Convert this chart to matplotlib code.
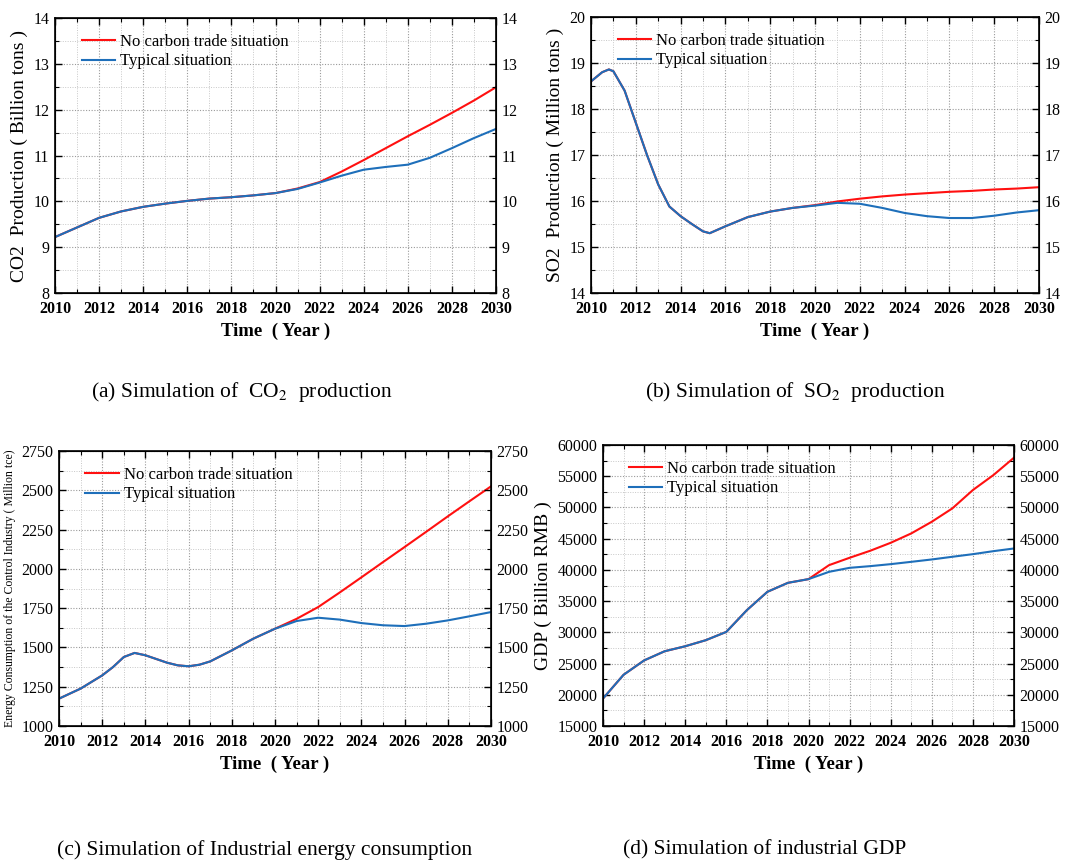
import matplotlib
matplotlib.use("Agg")
import matplotlib.pyplot as plt
from matplotlib.ticker import MultipleLocator

plt.rcParams['font.family'] = ['Liberation Serif', 'DejaVu Serif']
plt.rcParams['mathtext.fontset'] = 'stix'

# ---------------- data ----------------
years = [2010, 2011, 2012, 2013, 2014, 2015, 2016, 2017, 2018, 2019, 2020,
         2021, 2022, 2023, 2024, 2025, 2026, 2027, 2028, 2029, 2030]

co2_typical = [9.22, 9.43, 9.64, 9.78, 9.88, 9.95, 10.01, 10.06, 10.09, 10.13, 10.18,
               10.27, 10.41, 10.56, 10.69, 10.75, 10.80, 10.95, 11.16, 11.38, 11.58]
co2_nocarbon = [9.22, 9.43, 9.64, 9.78, 9.88, 9.95, 10.01, 10.06, 10.09, 10.13, 10.18,
                10.28, 10.42, 10.65, 10.90, 11.16, 11.42, 11.67, 11.93, 12.20, 12.49]

so2_years = [2010, 2010.5, 2010.8, 2011, 2011.5, 2012, 2012.5, 2013, 2013.5, 2014, 2014.5,
             2015, 2015.3, 2016, 2017, 2018, 2019, 2020, 2021, 2022, 2023, 2024,
             2025, 2026, 2027, 2028, 2029, 2030]
so2_typical = [18.60, 18.80, 18.86, 18.82, 18.40, 17.70, 17.00, 16.36, 15.88, 15.67, 15.50,
               15.34, 15.30, 15.45, 15.65, 15.77, 15.85, 15.90, 15.96, 15.94, 15.85, 15.74,
               15.67, 15.63, 15.63, 15.68, 15.75, 15.80]
so2_nocarbon = [18.60, 18.80, 18.86, 18.82, 18.40, 17.70, 17.00, 16.36, 15.88, 15.67, 15.50,
                15.34, 15.30, 15.45, 15.65, 15.77, 15.85, 15.91, 15.99, 16.05, 16.10, 16.14,
                16.17, 16.20, 16.22, 16.25, 16.27, 16.30]

en_years = [2010, 2011, 2012, 2012.5, 2013, 2013.5, 2014, 2015, 2015.5, 2016, 2016.5,
            2017, 2018, 2019, 2020, 2021, 2022, 2023, 2024, 2025, 2026, 2027,
            2028, 2029, 2030]
energy_typical = [1174, 1238, 1322, 1375, 1439, 1465, 1450, 1403, 1386, 1380, 1390,
                  1411, 1481, 1556, 1619, 1668, 1689, 1677, 1655, 1641, 1636, 1651,
                  1672, 1698, 1725]
energy_nocarbon = [1174, 1238, 1322, 1375, 1439, 1465, 1450, 1403, 1386, 1380, 1390,
                   1411, 1481, 1556, 1619, 1682, 1757, 1850, 1946, 2043, 2139, 2236,
                   2334, 2430, 2525]

gdp_typical = [19400, 23200, 25500, 26970, 27770, 28740, 30070, 33550, 36490, 37930, 38520,
               39690, 40330, 40600, 40920, 41290, 41670, 42100, 42520, 43000, 43430]
gdp_nocarbon = [19400, 23200, 25500, 26970, 27770, 28740, 30070, 33550, 36490, 37930, 38520,
                40760, 41940, 43060, 44340, 45840, 47710, 49850, 52790, 55190, 57970]

labels = ['No carbon trade situation', 'Typical situation']
captions = [r'(a) Simulation of  CO$_2$  production',
            r'(b) Simulation of  SO$_2$  production',
            '(c) Simulation of Industrial energy consumption',
            '(d) Simulation of industrial GDP']

RED = '#ff1010'
BLUE = '#1e6fba'

W, H = 1065, 860
fig = plt.figure(figsize=(W / 100, H / 100), dpi=100)


def axes_px(l, r, t, b):
    return fig.add_axes([l / W, (H - b) / H, (r - l) / W, (b - t) / H])


def style(ax, ymin, ymax, ymaj, ymin_step, ylabel, ylsize):
    ax.set_xlim(2010, 2030)
    ax.set_ylim(ymin, ymax)
    ax.xaxis.set_major_locator(MultipleLocator(2))
    ax.xaxis.set_minor_locator(MultipleLocator(1))
    ax.yaxis.set_major_locator(MultipleLocator(ymaj))
    ax.yaxis.set_minor_locator(MultipleLocator(ymin_step))
    ax.grid(which='major', linestyle=(0, (1, 1.5)), color='#9a9a9a', lw=0.8)
    ax.grid(which='minor', linestyle=(0, (1, 1.5)), color='#c8c8c8', lw=0.7)
    ax.set_axisbelow(True)
    ax.tick_params(which='both', direction='in', top=True, right=False,
                   colors='black', labelsize=11.5)
    ax.tick_params(axis='x', which='major', pad=6)
    ax.tick_params(axis='y', which='major', pad=4)
    ax.tick_params(which='major', length=5, width=1)
    ax.tick_params(which='minor', length=3, width=0.8)
    for lab in ax.get_xticklabels():
        lab.set_fontweight('bold')
    for s in ax.spines.values():
        s.set_linewidth(1.2)
    ax.set_xlabel('Time  ( Year )', fontsize=13.5, fontweight='bold', labelpad=4)
    ax.set_ylabel(ylabel, fontsize=ylsize, labelpad=4)
    ax2 = ax.twinx()
    ax2.set_ylim(ymin, ymax)
    ax2.yaxis.set_major_locator(MultipleLocator(ymaj))
    ax2.yaxis.set_minor_locator(MultipleLocator(ymin_step))
    ax2.tick_params(which='both', direction='in', labelsize=11.5, pad=4)
    ax2.tick_params(which='major', length=5, width=1)
    ax2.tick_params(which='minor', length=3, width=0.8)
    ax.legend(loc='upper left', frameon=False, fontsize=12, handlelength=2.0,
              handletextpad=0.3, labelspacing=0.2, borderaxespad=0.4,
              bbox_to_anchor=(0.03, 0.99))


# (a)
ax = axes_px(55, 496, 18, 293)
ax.plot(years, co2_nocarbon, color=RED, lw=1.5, label=labels[0])
ax.plot(years, co2_typical, color=BLUE, lw=1.5, label=labels[1])
style(ax, 8, 14, 1, 0.5, 'CO2  Production ( Billion tons )', 14)

# (b)
ax = axes_px(591, 1039, 17, 293)
ax.plot(so2_years, so2_nocarbon, color=RED, lw=1.5, label=labels[0])
ax.plot(so2_years, so2_typical, color=BLUE, lw=1.5, label=labels[1])
style(ax, 14, 20, 1, 0.5, 'SO2  Production ( Million tons )', 14)

# (c)
ax = axes_px(59, 491, 451, 726)
ax.plot(en_years, energy_nocarbon, color=RED, lw=1.5, label=labels[0])
ax.plot(en_years, energy_typical, color=BLUE, lw=1.5, label=labels[1])
style(ax, 1000, 2750, 250, 125,
      'Energy Consumption of the Control Industry ( Million tce)', 8.5)

# (d)
ax = axes_px(603, 1014, 445, 726)
ax.plot(years, gdp_nocarbon, color=RED, lw=1.5, label=labels[0])
ax.plot(years, gdp_typical, color=BLUE, lw=1.5, label=labels[1])
style(ax, 15000, 60000, 5000, 2500, 'GDP ( Billion RMB )', 14)

# captions
cap_pos = [(242, 392), (795, 392), (265, 850), (765, 850)]
for (cx, cy), txt in zip(cap_pos, captions):
    fig.text(cx / W, 1 - cy / H, txt, ha='center', va='center', fontsize=15.5)

fig.savefig('out.png', dpi=100)
